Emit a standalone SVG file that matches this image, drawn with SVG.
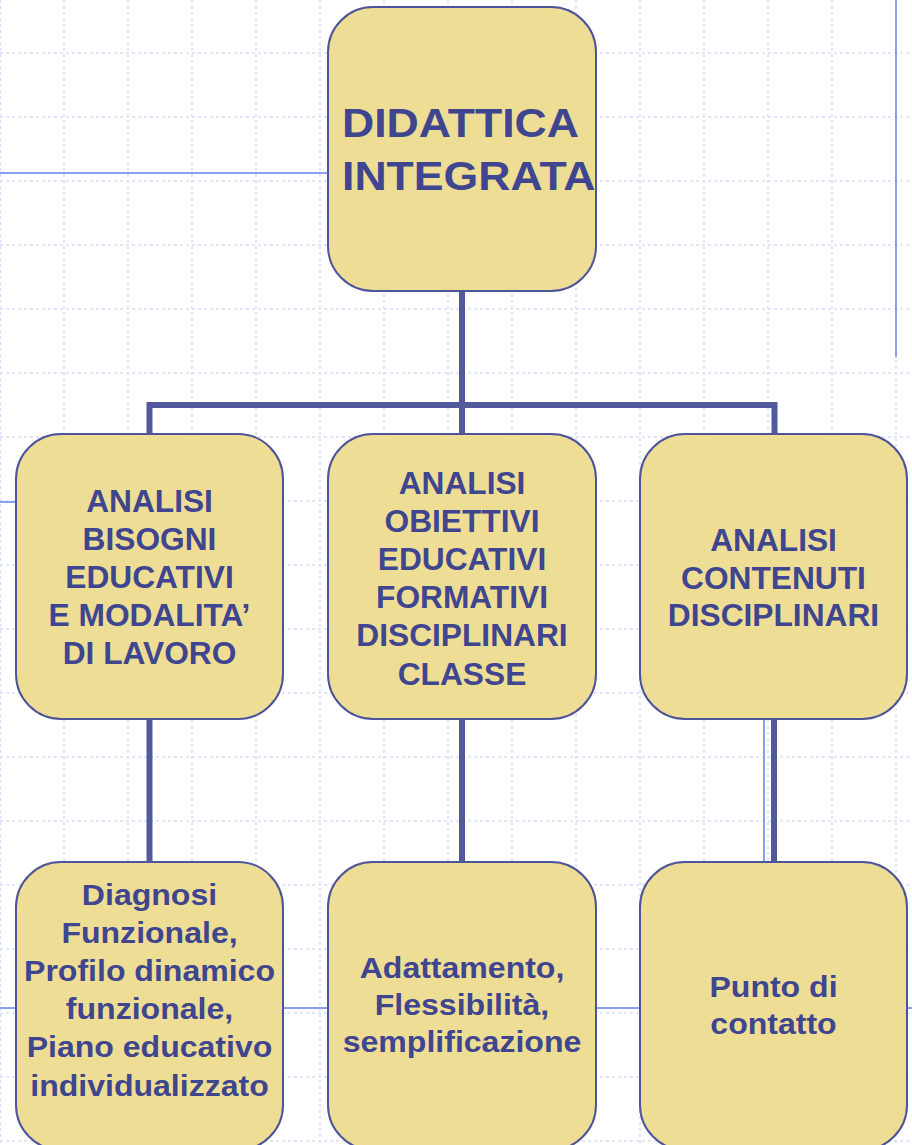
<svg xmlns="http://www.w3.org/2000/svg" width="912" height="1145" viewBox="0 0 912 1145">
<style>
.grid line{stroke:#d6e0fb;stroke-width:1.5;stroke-dasharray:3 3}
.bg{stroke:#88a0f0;stroke-width:2;fill:none}
.conn{stroke:#525a9b;stroke-width:6;fill:none}
.box{fill:#eedd95;stroke:#4e5499;stroke-width:2}
.t{font-family:"Liberation Sans",Arial,sans-serif;font-weight:bold;fill:#3f458f;text-anchor:middle}
.m{font-size:31.7px}
.b{font-size:29px}
.top{font-size:40px;text-anchor:start}
</style>
<rect width="912" height="1145" fill="#ffffff"/>
<g class="grid">
<line x1="0.5" y1="0" x2="0.5" y2="1145"/>
<line x1="64" y1="0" x2="64" y2="1145"/>
<line x1="128" y1="0" x2="128" y2="1145"/>
<line x1="192" y1="0" x2="192" y2="1145"/>
<line x1="256" y1="0" x2="256" y2="1145"/>
<line x1="320" y1="0" x2="320" y2="1145"/>
<line x1="384" y1="0" x2="384" y2="1145"/>
<line x1="448" y1="0" x2="448" y2="1145"/>
<line x1="512" y1="0" x2="512" y2="1145"/>
<line x1="576" y1="0" x2="576" y2="1145"/>
<line x1="640" y1="0" x2="640" y2="1145"/>
<line x1="704" y1="0" x2="704" y2="1145"/>
<line x1="768" y1="0" x2="768" y2="1145"/>
<line x1="832" y1="0" x2="832" y2="1145"/>
<line x1="896" y1="0" x2="896" y2="1145"/>
<line x1="0" y1="53" x2="912" y2="53"/>
<line x1="0" y1="117" x2="912" y2="117"/>
<line x1="0" y1="181" x2="912" y2="181"/>
<line x1="0" y1="245" x2="912" y2="245"/>
<line x1="0" y1="309" x2="912" y2="309"/>
<line x1="0" y1="373" x2="912" y2="373"/>
<line x1="0" y1="437" x2="912" y2="437"/>
<line x1="0" y1="501" x2="912" y2="501"/>
<line x1="0" y1="565" x2="912" y2="565"/>
<line x1="0" y1="629" x2="912" y2="629"/>
<line x1="0" y1="693" x2="912" y2="693"/>
<line x1="0" y1="757" x2="912" y2="757"/>
<line x1="0" y1="821" x2="912" y2="821"/>
<line x1="0" y1="885" x2="912" y2="885"/>
<line x1="0" y1="949" x2="912" y2="949"/>
<line x1="0" y1="1013" x2="912" y2="1013"/>
<line x1="0" y1="1077" x2="912" y2="1077"/>
<line x1="0" y1="1141" x2="912" y2="1141"/>
</g>
<g id="background-lines">
<line class="bg" x1="0" y1="173" x2="330" y2="173"/>
<line class="bg" x1="896" y1="0" x2="896" y2="357"/>
<line class="bg" x1="0" y1="502" x2="18" y2="502"/>
<line class="bg" x1="0" y1="1008" x2="912" y2="1008"/>
<line class="bg" x1="764" y1="700" x2="764" y2="880"/>
</g>
<g id="connectors">
<path class="conn" d="M462 291 V405"/>
<path class="conn" d="M149.5 434 V405 H774.5 V434"/>
<path class="conn" d="M462 405 V434"/>
<path class="conn" d="M149.5 719 V862"/>
<path class="conn" d="M462 719 V862"/>
<path class="conn" d="M774 719 V862"/>
</g>
<g id="n-didattica">
<rect class="box" x="328" y="7" width="268" height="284" rx="45"/>
<g transform="translate(342,0) scale(1.115,1)">
<text class="t top" x="0" y="137">DIDATTICA</text>
<text class="t top" x="0" y="190">INTEGRATA</text>
</g>
</g>
<g id="n-bisogni">
<rect class="box" x="16" y="434" width="267" height="285" rx="45"/>
<text class="t m" x="149.5" y="512">ANALISI</text>
<text class="t m" x="149.5" y="550">BISOGNI</text>
<text class="t m" x="149.5" y="588">EDUCATIVI</text>
<text class="t m" x="149.5" y="626">E MODALITA’</text>
<text class="t m" x="149.5" y="664">DI LAVORO</text>
</g>
<g id="n-obiettivi">
<rect class="box" x="328" y="434" width="268" height="285" rx="45"/>
<text class="t m" x="462" y="494">ANALISI</text>
<text class="t m" x="462" y="532">OBIETTIVI</text>
<text class="t m" x="462" y="570">EDUCATIVI</text>
<text class="t m" x="462" y="608">FORMATIVI</text>
<text class="t m" x="462" y="646">DISCIPLINARI</text>
<text class="t m" x="462" y="685">CLASSE</text>
</g>
<g id="n-contenuti">
<rect class="box" x="640" y="434" width="267" height="285" rx="45"/>
<text class="t m" x="773.5" y="551">ANALISI</text>
<text class="t m" x="773.5" y="589">CONTENUTI</text>
<text class="t m" x="773.5" y="626">DISCIPLINARI</text>
</g>
<g id="n-diagnosi">
<rect class="box" x="16" y="862" width="267" height="288" rx="45"/>
<g transform="translate(149.5,0) scale(1.105,1)">
<text class="t b" x="0" y="905">Diagnosi</text>
<text class="t b" x="0" y="943">Funzionale,</text>
<text class="t b" x="0" y="981">Profilo dinamico</text>
<text class="t b" x="0" y="1019">funzionale,</text>
<text class="t b" x="0" y="1057">Piano educativo</text>
<text class="t b" x="0" y="1096">individualizzato</text>
</g>
</g>
<g id="n-adattamento">
<rect class="box" x="328" y="862" width="268" height="288" rx="45"/>
<g transform="translate(462,0) scale(1.105,1)">
<text class="t b" x="0" y="978">Adattamento,</text>
<text class="t b" x="0" y="1015">Flessibilità,</text>
<text class="t b" x="0" y="1052">semplificazione</text>
</g>
</g>
<g id="n-punto">
<rect class="box" x="640" y="862" width="267" height="288" rx="45"/>
<g transform="translate(773.5,0) scale(1.105,1)">
<text class="t b" x="0" y="997">Punto di</text>
<text class="t b" x="0" y="1034">contatto</text>
</g>
</g>
</svg>
